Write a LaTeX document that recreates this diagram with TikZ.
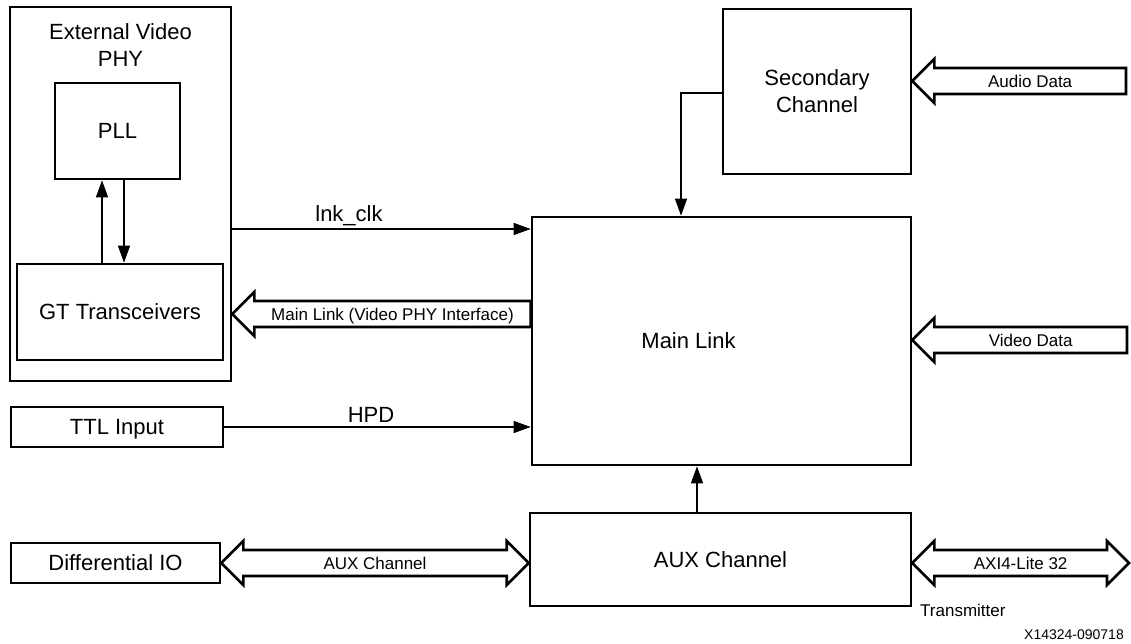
\documentclass[tikz,border=0pt]{standalone}
\usepackage{fontspec}
\setmainfont{Liberation Sans}
\usetikzlibrary{arrows.meta,calc}

\begin{document}
\begin{tikzpicture}[x=1pt,y=-1pt,
        box/.style={draw,line width=2.6pt,inner sep=0pt,font=\fontsize{22}{27}\selectfont},
        onebox/.style={box,text height=15.8pt,text depth=0pt},
        fat/.style={draw,line width=2.6pt,line join=miter},
        sig/.style={line width=1.2pt,-{Triangle[length=17pt,width=12pt]}},
        big/.style={inner sep=0pt,text height=15.8pt,text depth=0pt,font=\fontsize{22}{27}\selectfont},
        small/.style={inner sep=0pt,text height=12.2pt,text depth=0pt,font=\fontsize{17}{20}\selectfont}]

    \useasboundingbox (0,0) rectangle (1131,644);

    % blocks
    \node[box,minimum width=221pt,minimum height=374pt] (ext) at (120.5,194) {};
    \node[inner sep=0pt,align=center,anchor=north,font=\fontsize{22}{27}\selectfont] (extlbl) at ([yshift=-18pt]ext.north) {External Video\\PHY};
    \node[onebox,minimum width=125pt,minimum height=96pt] (pll) at (117.5,131) {PLL};
    \node[onebox,minimum width=206pt,minimum height=96pt] (gt) at (120,312) {GT Transceivers};
    \node[onebox,minimum width=212pt,minimum height=40pt] (ttl) at (117,427) {TTL Input};
    \node[onebox,minimum width=209pt,minimum height=40pt] (dio) at (115.5,563) {Differential IO};
    \node[box,align=center,minimum width=188pt,minimum height=165pt] (sec) at (817,91.5) {Secondary\\Channel};
    \node[box,minimum width=379pt,minimum height=248pt] (main) at (721.5,341) {};
    \node[big] (mainlbl) at ([xshift=-33pt]main.center) {Main Link};
    \node[onebox,minimum width=381pt,minimum height=93pt] (aux) at (720.5,559.5) {AUX Channel};

    % free ends on the right
    \coordinate (audioend) at (1126,81);
    \coordinate (videoend) at (1127,340);
    \coordinate (axiend) at (1129,563);
    \coordinate (phytip) at ([yshift=-120pt]ext.east);
    \coordinate (audiotip) at ([yshift=10.5pt]sec.east);
    \coordinate (videotip) at ([yshift=1pt]main.east);

    % thin signals
    \draw[sig] ([xshift=-18pt]gt.north) -- ([xshift=-18pt]gt.north |- pll.south);
    \draw[sig] ([xshift=4pt]gt.north |- pll.south) -- ([xshift=4pt]gt.north);
    \draw[sig] ([yshift=-35pt]ext.east) -- ([yshift=-35pt]ext.east -| main.west);
    \draw[sig] (ttl.east) -- (ttl.east -| main.west);
    \draw[sig] ([yshift=-1.5pt]sec.west) -| ([xshift=-40.5pt]main.north);
    \draw[sig] ([xshift=-23.5pt]aux.north) -- ([xshift=-23.5pt]aux.north |- main.south);
    \node[big,anchor=base] (clklbl) at (349,222) {lnk\_clk};
    \node[big,anchor=base] (hpdlbl) at (371,422) {HPD};

    % wide buses
    \draw[fat] (phytip) -- ++(22,-22) -- ++(0,9) -| ($(main.west |- phytip)+(0,13)$)
        -- ($(phytip)+(22,13)$) -- ++(0,9) -- cycle;
    \node[small] (phylbl) at ($(phytip)!.5!(main.west |- phytip)+(11,0)$) {Main Link (Video PHY Interface)};
    \draw[fat] (audiotip) -- ++(22,-22) -- ++(0,9) -| ($(audioend)+(0,13)$)
        -- ($(audiotip)+(22,13)$) -- ++(0,9) -- cycle;
    \node[small] (audiolbl) at ($(audiotip)!.5!(audioend)+(11,0)$) {Audio Data};
    \draw[fat] (videotip) -- ++(22,-22) -- ++(0,9) -| ($(videoend)+(0,13)$)
        -- ($(videotip)+(22,13)$) -- ++(0,9) -- cycle;
    \node[small] (videolbl) at ($(videotip)!.5!(videoend)+(11,0)$) {Video Data};
    \draw[fat] (dio.east) -- ++(22,-22) -- ++(0,9) -- ($(aux.west |- dio.east)+(-22,-13)$) -- ++(0,-9)
        -- (aux.west |- dio.east) -- ++(-22,22) -- ++(0,-9) -- ($(dio.east)+(22,13)$) -- ++(0,9) -- cycle;
    \node[small] (auxlbl) at ($(dio.east)!.5!(aux.west |- dio.east)$) {AUX Channel};
    \draw[fat] (aux.east |- axiend) -- ++(22,-22) -- ++(0,9) -- ($(axiend)+(-22,-13)$) -- ++(0,-9)
        -- (axiend) -- ++(-22,22) -- ++(0,-9) -- ($(aux.east |- axiend)+(22,13)$) -- ++(0,9) -- cycle;
    \node[small] (axilbl) at ($(aux.east |- axiend)!.5!(axiend)$) {AXI4-Lite 32};

    \node[inner sep=0pt,anchor=base west,font=\fontsize{17}{20}\selectfont] (txlbl) at (920,616) {Transmitter};
    \node[inner sep=0pt,anchor=base east,font=\fontsize{14}{17}\selectfont] (figid) at (1124,639) {X14324-090718};
\end{tikzpicture}
\end{document}
